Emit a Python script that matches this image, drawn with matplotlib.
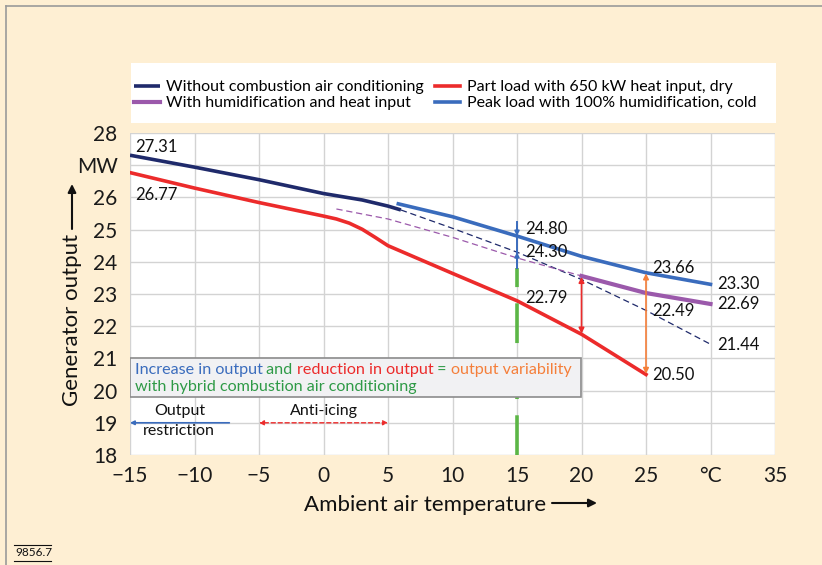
import matplotlib
matplotlib.use("Agg")
import matplotlib.pyplot as plt
from matplotlib.patches import Rectangle
from matplotlib.lines import Line2D

# --- data ---
navy_x = [-15, -10, -5, 0, 3, 5, 6]
navy_y = [27.31, 26.94, 26.55, 26.12, 25.92, 25.73, 25.61]
navy_dash_x = [6, 10, 15, 20, 25, 30]
navy_dash_y = [25.61, 25.04, 24.30, 23.45, 22.49, 21.44]

red_x = [-15, -10, -5, 0, 1, 2, 3, 4, 5, 10, 15, 20, 25]
red_y = [26.77, 26.29, 25.84, 25.42, 25.33, 25.20, 25.01, 24.76, 24.50, 23.64, 22.79, 21.75, 20.50]

blue_x = [5.8, 10, 15, 20, 25, 30]
blue_y = [25.80, 25.40, 24.80, 24.17, 23.66, 23.30]

purple_dash_x = [1, 5, 10, 15, 20]
purple_dash_y = [25.64, 25.33, 24.76, 24.12, 23.56]
purple_x = [20, 25, 30]
purple_y = [23.56, 23.03, 22.69]

labels = ["Without combustion air conditioning", "With humidification and heat input",
          "Part load with 650 kW heat input, dry", "Peak load with 100% humidification, cold"]

xticks = [-15, -10, -5, 0, 5, 10, 15, 20, 25, 30, 35]
xticklabels = ["\u221215", "\u221210", "\u22125", "0", "5", "10", "15", "20", "25", "\u00b0C", "35"]
yticks = list(range(18, 29))
yticklabels = ["18", "19", "20", "21", "22", "23", "24", "25", "26", "MW", "28"]

# value labels: (text, x, y)
value_labels = [("27.31", -14.6, 27.55), ("26.77", -14.6, 26.07),
                ("24.80", 15.6, 25.02), ("24.30", 15.6, 24.30), ("22.79", 15.6, 22.88),
                ("23.66", 25.5, 23.80), ("22.49", 25.5, 22.47), ("20.50", 25.5, 20.49),
                ("23.30", 30.5, 23.31), ("22.69", 30.5, 22.69), ("21.44", 30.5, 21.42)]

NAVY = "#1f2a6b"
RED = "#ec2b2b"
BLUE = "#3a6cbd"
PURPLE = "#9b59ab"
ORANGE = "#f57f3a"
GREEN = "#5cb646"
TGREEN = "#2e9a46"
BG = "#feefd3"

plt.rcParams['font.family'] = ['Lato', 'DejaVu Sans']

fig = plt.figure(figsize=(8.22, 5.65), dpi=100, facecolor=BG)
ax = fig.add_axes([130/822, 110/565, 645/822, 322/565])
ax.set_facecolor("white")
for s in ax.spines.values():
    s.set_visible(False)

ax.set_xlim(-15, 35)
ax.set_ylim(18, 28)
ax.set_xticks(xticks)
ax.set_xticklabels(xticklabels)
ax.set_yticks(yticks)
ax.set_yticklabels(yticklabels)
ax.tick_params(length=0, labelsize=15, colors="#1a1a1a")
ax.tick_params(axis="y", pad=9)
ax.tick_params(axis="x", pad=8)
ax.grid(True, color="#d3d3d3", linewidth=1)
ax.set_axisbelow(True)

# curves
h1, = ax.plot(navy_x, navy_y, color=NAVY, lw=2.6, solid_capstyle="butt")
ax.plot(navy_dash_x, navy_dash_y, color=NAVY, lw=0.9, dashes=(5, 3))
h3, = ax.plot(red_x, red_y, color=RED, lw=2.6)
h4, = ax.plot(blue_x, blue_y, color=BLUE, lw=2.6)
ax.plot(purple_dash_x, purple_dash_y, color=PURPLE, lw=0.9, dashes=(5, 3))
h2, = ax.plot(purple_x, purple_y, color=PURPLE, lw=3)

# green dashed line at 15 degC
ax.plot([15, 15], [18, 23.8], color=GREEN, lw=2.6, dashes=(11, 4.5))
# blue marker line at 15 degC
ax.plot([15, 15], [23.8, 25.24], color=BLUE, lw=1.4)
ax.annotate("", xy=(15, 24.80), xytext=(15, 25.1),
            arrowprops=dict(arrowstyle="-|>", color=BLUE, lw=1.2, mutation_scale=7, shrinkA=0, shrinkB=0))
ax.annotate("", xy=(15, 24.30), xytext=(15, 24.0),
            arrowprops=dict(arrowstyle="-|>", color=BLUE, lw=1.2, mutation_scale=7, shrinkA=0, shrinkB=0))

# variability arrows
ax.annotate("", xy=(20, 23.53), xytext=(20, 21.77),
            arrowprops=dict(arrowstyle="<|-|>", color=RED, lw=1.2, mutation_scale=8, shrinkA=0, shrinkB=0))
ax.annotate("", xy=(25, 23.64), xytext=(25, 20.52),
            arrowprops=dict(arrowstyle="<|-|>", color=ORANGE, lw=1.2, mutation_scale=8, shrinkA=0, shrinkB=0))

for t, x, y in value_labels:
    ax.text(x, y, t, fontsize=12, color="#111111", ha="left", va="center")

# info box
ax.add_patch(Rectangle((-15, 19.80), 34.96, 1.22, facecolor="#f1f1f3", edgecolor="#8c8c8c", lw=1.2, zorder=5))
pieces = [("Increase in output", BLUE), (" and ", TGREEN), ("reduction in output", RED),
          (" = ", TGREEN), ("output variability", ORANGE)]
prev = ax.text(-14.65, 20.63, pieces[0][0], color=pieces[0][1], fontsize=11.6, va="center", zorder=6)
for t, c in pieces[1:]:
    prev = ax.annotate(t, xy=(1, 0), xycoords=prev, va="bottom", ha="left", color=c, fontsize=11.6, zorder=6)
ax.text(-14.65, 20.10, "with hybrid combustion air conditioning", color=TGREEN, fontsize=11.6, va="center",
        zorder=6)

# bottom annotations
ax.annotate("", xy=(-15, 19.0), xytext=(-7.3, 19.0),
            arrowprops=dict(arrowstyle="-|>", color=BLUE, lw=1.2, mutation_scale=6, shrinkA=0, shrinkB=0))
ax.text(-11.1, 19.37, "Output", fontsize=11.5, ha="center", va="center", color="#111111")
ax.text(-11.2, 18.75, "restriction", fontsize=11.5, ha="center", va="center", color="#111111")
ax.annotate("", xy=(-5, 19.0), xytext=(5, 19.0),
            arrowprops=dict(arrowstyle="<|-|>", color=RED, lw=1.0, ls=(0, (3, 2)), mutation_scale=7,
                            shrinkA=0, shrinkB=0))
ax.text(0, 19.37, "Anti-icing", fontsize=11.5, ha="center", va="center", color="#111111")

# legend
fig.patches.append(Rectangle((131/822, 1 - 123/565), 645/822, 60/565, transform=fig.transFigure,
                             facecolor="white", edgecolor="none", zorder=0))
fig.legend([h1, h2, h3, h4], labels, ncol=2, frameon=False, fontsize=11.5,
           loc="upper left", bbox_to_anchor=(134/822, 1 - 80/565),
           handlelength=1.6, handletextpad=0.4, columnspacing=0.7, labelspacing=0.12,
           borderaxespad=0, borderpad=0)

# axis titles with arrows
fig.text(72/822, 1 - 320/565, "Generator output", rotation=90, fontsize=16, ha="center", va="center",
         color="#111111")
ax.annotate("", xy=(72/822, 1 - 184/565), xytext=(72/822, 1 - 229/565), xycoords="figure fraction",
            textcoords="figure fraction",
            arrowprops=dict(arrowstyle="-|>", color="#111111", lw=1.5, mutation_scale=12, shrinkA=0, shrinkB=0))
fig.text(425/822, 1 - 505/565, "Ambient air temperature", fontsize=16, ha="center", va="center",
         color="#111111")
ax.annotate("", xy=(597/822, 1 - 503/565), xytext=(552/822, 1 - 503/565), xycoords="figure fraction",
            textcoords="figure fraction",
            arrowprops=dict(arrowstyle="-|>", color="#111111", lw=1.5, mutation_scale=12, shrinkA=0, shrinkB=0))

# frame lines and figure number
fig.add_artist(Line2D([6/822, 1], [1 - 6/565, 1 - 6/565], color="#9a9a9a", lw=1.2, transform=fig.transFigure))
fig.add_artist(Line2D([6/822, 6/822], [0, 1 - 6/565], color="#9a9a9a", lw=1.2, transform=fig.transFigure))
fig.text(15/822, 1 - 553/565, "9856.7", fontsize=8.5, ha="left", va="center", color="#111111")
fig.add_artist(Line2D([14/822, 51/822], [1 - 545/565, 1 - 545/565], color="#111111", lw=0.8,
                      transform=fig.transFigure))
fig.add_artist(Line2D([14/822, 51/822], [1 - 561/565, 1 - 561/565], color="#111111", lw=0.8,
                      transform=fig.transFigure))

fig.savefig("out.png", dpi=100, facecolor=BG)
